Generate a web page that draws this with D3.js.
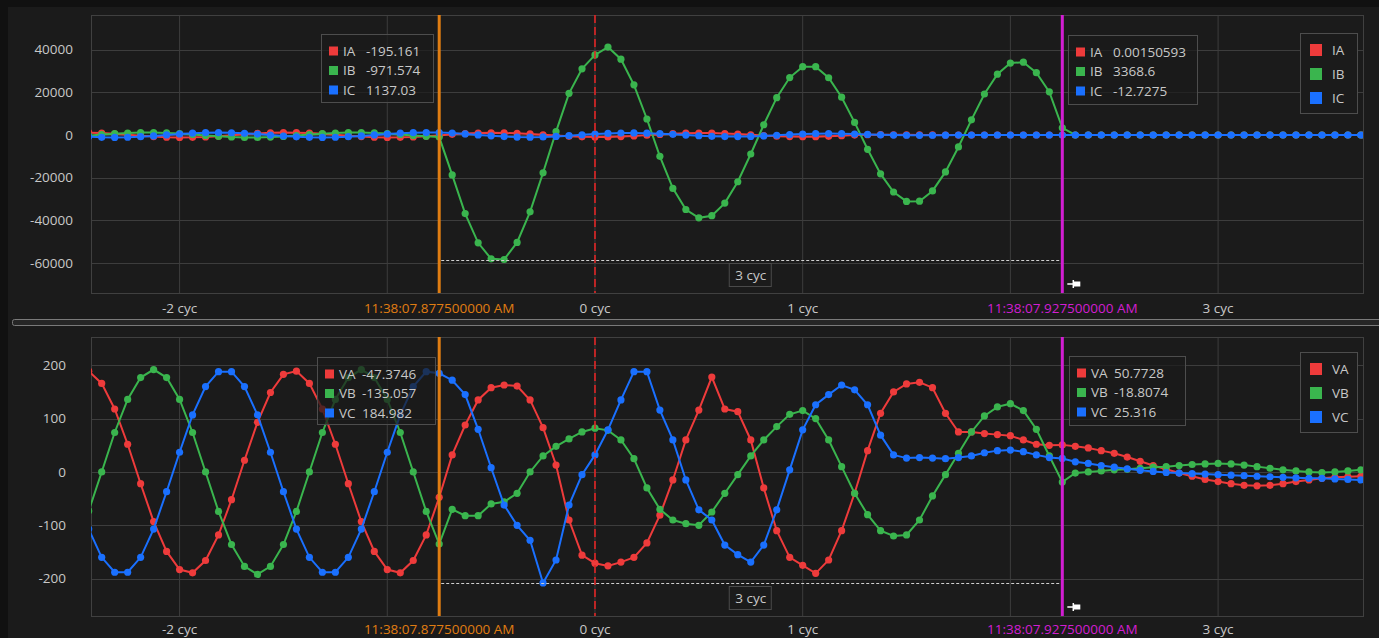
<!DOCTYPE html>
<html lang="en">
<head>
<meta charset="utf-8" />
<style>
    body {margin:0; background:#1b1b1b;}
    svg {display:block;}
    text {font-family: "Open Sans", "Noto Sans", sans-serif; font-size: 13.5px; fill: #c8c8c8;}
</style>
<script src="https://d3js.org/d3.v7.min.js"></script>
</head>
<body>
<svg></svg>
<script>
var width = 1379,
    height = 638;

// sample numbering: first sample index, 16 samples per cycle
var firstSample = -39,
    samplesPerCycle = 16;

var ia = [1103, 894, 549, 120, -327, -724, -1011, -1144, -1103, -894, -549, -120, 327, 724, 1011, 1144,
    1103, 894, 549, 120, -327, -724, -1011, -1144, -1103, -894, -549, -195.161,
    300, 650, 900, 1000, 950, 780, 480, 100, -280, -620, -860, -950, -900, -720, -420, -60,
    290, 610, 840, 930, 880, 700, 420, 80, -260, -560, -760, -830, -780, -600, -330, -40,
    120, 150, 120, 80, 40, 20, 10, 5, 3, 2, 1, 0, 0, 0, 0, 0.00150593,
    0, 0, 0, 0, 0, 0, 0, 0, 0, 0, 0, 0, 0, 0, 0, 0, 0, 0, 0, 0, 0, 0, 0];
var ib = [-268, 180, 601, 930, 1118, 1136, 981, 676, 268, -180, -601, -930, -1118, -1136, -981, -676,
    -268, 180, 601, 930, 1118, 1136, 981, 676, 268, -180, -601, -971.574,
    -18700, -36800, -50500, -58000, -58300, -50300, -36000, -17700, 1600, 19500, 31000, 37500,
    41200, 35500, 23500, 7500, -10000, -25000, -34900, -38800, -37800, -31900, -21900, -8900,
    4800, 17500, 26900, 32000, 32000, 26800, 17700, 5900, -6700, -18200, -26700, -31100,
    -31000, -26200, -17300, -5600, 7100, 19200, 28500, 33700, 34100, 29200, 20200, 3368.6,
    0, 0, 0, 0, 0, 0, 0, 0, 0, 0, 0, 0, 0, 0, 0, 0, 0, 0, 0, 0, 0, 0, 0];
var ic = [-834, -1074, -1150, -1051, -792, -412, 30, 468, 834, 1074, 1150, 1051, 792, 412, -30, -468,
    -834, -1074, -1150, -1051, -792, -412, 30, 468, 834, 1074, 1150, 1137.03,
    900, 500, 50, -400, -750, -950, -1000, -900, -650, -300, 100, 450, 750, 900, 950, 850,
    600, 300, -50, -350, -600, -750, -760, -650, -420, -120, 200, 450, 620, 680, 620, 450,
    250, 80, -50, -120, -140, -120, -80, -40, -20, -10, -10, -10, -10, -10, -10, -12.7275,
    0, 0, 0, 0, 0, 0, 0, 0, 0, 0, 0, 0, 0, 0, 0, 0, 0, 0, 0, 0, 0, 0, 0];

var va = [189, 166, 118, 52, -22, -93, -149, -183, -189, -166, -118, -52, 22, 93, 149, 183,
    189, 166, 118, 52, -22, -93, -149, -183, -189, -166, -118, -47.3746,
    32, 88, 135, 158, 163, 161, 135, 83, 13, -90, -156, -171, -176, -169, -160, -133,
    -81, -15, 60, 116, 178, 118, 113, 60, -30, -110, -160, -175, -190, -165, -110, -40,
    40, 110, 150, 165, 168, 158, 110, 75, 75, 72, 70, 68, 60, 52, 50, 50.7728,
    48, 45, 40, 35, 28, 20, 12, 5, -2, -8, -14, -18, -22, -25, -26, -25, -22, -18, -15, -12, -10, -9, -8];
var vb = [-73, 0, 74, 136, 177, 192, 177, 136, 74, 0, -74, -136, -177, -192, -177, -136,
    -74, 0, 74, 136, 177, 192, 177, 136, 74, 0, -74, -135.057,
    -70, -82, -82, -60, -56, -40, 0, 30, 48, 62, 75, 82, 78, 60, 25, -30,
    -70, -90, -97, -100, -75, -40, -5, 30, 60, 85, 108, 115, 100, 60, 10, -40,
    -80, -110, -120, -118, -90, -45, -5, 35, 75, 105, 122, 128, 115, 80, 30, -18.8074,
    -2, 0, 2, 4, 5, 7, 9, 10, 12, 14, 15, 16, 15, 13, 10, 7, 4, 2, 0, -1, 0, 2, 4];
var vc = [-107, -160, -188, -188, -160, -107, -37, 37, 107, 160, 188, 188, 160, 107, 37, -37,
    -107, -160, -188, -188, -160, -107, -37, 37, 107, 160, 188, 184.982,
    172, 145, 80, 8, -62, -100, -128, -208, -165, -62, -5, 32, 79, 135, 188, 188,
    116, 60, -15, -71, -90, -137, -155, -169, -137, -71, 4, 79, 126, 145, 163, 154,
    126, 69, 32, 26, 27, 26, 25, 27, 30, 36, 40, 41, 38, 32, 27, 25.316,
    19, 16, 12, 9, 6, 3, 1, -1, -2, -3, -4, -5, -6, -7, -8, -9, -10, -11, -12, -12, -13, -14, -15];

var xTickCycles = [-2, -1, 0, 1, 2, 3];
var xTickLabels = ["-2 cyc", "", "0 cyc", "1 cyc", "", "3 cyc"];
var currentTicks = [-60000, -40000, -20000, 0, 20000, 40000];
var voltageTicks = [-200, -100, 0, 100, 200];

var cursors = [
    {cycle: -0.75, time: "11:38:07.877500000 AM", color: "#e07d12"},
    {cycle: 2.25, time: "11:38:07.927500000 AM", color: "#d21ed2"}
];
var deltaLabel = "3 cyc";

var colors = ["#ee3b3b", "#3ab54e", "#1a70ff"];

var x = d3.scaleLinear().domain([-2.4265, 3.6977]).range([91, 1363]);
var fmt = d3.formatLocale({decimal: ".", thousands: ",", grouping: [3], currency: ["", ""], minus: "-"})
    .format(".6~g");

var svg = d3.select("svg")
    .attr("width", width)
    .attr("height", height);

svg.append("rect")
    .attr("width", width).attr("height", height)
    .attr("fill", "#111");
svg.append("rect")
    .attr("x", 8).attr("y", 7)
    .attr("width", width).attr("height", height)
    .attr("fill", "#1b1b1b");

// splitter between the two panels
svg.append("rect")
    .attr("x", 12.5).attr("y", 319.5)
    .attr("width", 1380).attr("height", 6)
    .attr("rx", 2)
    .attr("fill", "#262626")
    .attr("stroke", "#7a7a7a");

drawPanel({
    top: 15, bottom: 293,
    domain: [-74000, 56200],
    ticks: currentTicks,
    tickRight: 73,
    names: ["IA", "IB", "IC"],
    series: [ia, ib, ic],
    labelY: 313,
    measureY: 260,
    cursorBoxes: [{x: 321, y: 34, w: 112, h: 68}, {x: 1068, y: 35, w: 129, h: 69}],
    legend: {x: 1300, y: 33, w: 57, h: 80}
});

drawPanel({
    top: 337, bottom: 616,
    domain: [-270, 253],
    ticks: voltageTicks,
    tickRight: 66,
    names: ["VA", "VB", "VC"],
    series: [va, vb, vc],
    labelY: 634,
    measureY: 583,
    cursorBoxes: [{x: 317, y: 357, w: 118, h: 67}, {x: 1069, y: 356, w: 116, h: 69}],
    legend: {x: 1300, y: 352, w: 57, h: 80}
});

function drawPanel(p) {
    var y = d3.scaleLinear().domain(p.domain).range([p.bottom, p.top]);
    var g = svg.append("g");
    var clipId = "clip" + p.top;

    g.append("clipPath").attr("id", clipId)
      .append("rect")
        .attr("x", x.range()[0]).attr("y", p.top)
        .attr("width", x.range()[1] - x.range()[0])
        .attr("height", p.bottom - p.top);

    // grid
    g.append("g").selectAll("line")
        .data(xTickCycles)
      .enter().append("line")
        .attr("x1", function(d) {return x(d)}).attr("x2", function(d) {return x(d)})
        .attr("y1", p.top).attr("y2", p.bottom)
        .attr("stroke", "#3d3d3d");

    g.append("g").selectAll("line")
        .data(p.ticks)
      .enter().append("line")
        .attr("x1", x.range()[0]).attr("x2", x.range()[1])
        .attr("y1", function(d) {return Math.round(y(d)) + 0.5})
        .attr("y2", function(d) {return Math.round(y(d)) + 0.5})
        .attr("stroke", "#3d3d3d");

    g.append("rect")
        .attr("x", x.range()[0] + 0.5).attr("y", p.top + 0.5)
        .attr("width", x.range()[1] - x.range()[0]).attr("height", p.bottom - p.top)
        .attr("fill", "none")
        .attr("stroke", "#404040");

    // y tick labels
    g.append("g").selectAll("text")
        .data(p.ticks)
      .enter().append("text")
        .attr("x", p.tickRight)
        .attr("y", function(d) {return y(d)})
        .attr("dy", "0.35em")
        .attr("text-anchor", "end")
        .text(function(d) {return d});

    // x tick labels
    g.append("g").selectAll("text")
        .data(xTickCycles.filter(function(d, i) {return xTickLabels[i]}))
      .enter().append("text")
        .attr("x", function(d) {return x(d)})
        .attr("y", p.labelY)
        .attr("text-anchor", "middle")
        .text(function(d) {return xTickLabels[xTickCycles.indexOf(d)]});

    // waveforms
    var line = d3.line()
        .x(function(d, i) {return x((firstSample + i) / samplesPerCycle)})
        .y(function(d) {return y(d)});

    var plot = g.append("g").attr("clip-path", "url(#" + clipId + ")");

    p.series.forEach(function(s, si) {
        plot.append("path")
            .datum(s)
            .attr("d", line)
            .attr("fill", "none")
            .attr("stroke", colors[si])
            .attr("stroke-width", 2);

        plot.append("g").selectAll("circle")
            .data(s)
          .enter().append("circle")
            .attr("cx", function(d, i) {return x((firstSample + i) / samplesPerCycle)})
            .attr("cy", function(d) {return y(d)})
            .attr("r", 3.6)
            .attr("fill", colors[si]);
    });

    // zero-cycle trigger marker
    g.append("line")
        .attr("x1", x(0)).attr("x2", x(0))
        .attr("y1", p.top).attr("y2", p.bottom)
        .attr("stroke", "#e02424")
        .attr("stroke-width", 1.6)
        .attr("stroke-dasharray", "8,4");

    // cursors
    cursors.forEach(function(c) {
        g.append("line")
            .attr("x1", x(c.cycle)).attr("x2", x(c.cycle))
            .attr("y1", p.top).attr("y2", p.bottom)
            .attr("stroke", c.color)
            .attr("stroke-width", 3);

        g.append("text")
            .attr("x", x(c.cycle))
            .attr("y", p.labelY)
            .attr("text-anchor", "middle")
            .style("fill", c.color)
            .text(c.time);
    });

    // delta measurement between cursors
    var xa = x(cursors[0].cycle), xb = x(cursors[1].cycle);
    g.append("line")
        .attr("x1", xa + 2).attr("x2", xb - 2)
        .attr("y1", p.measureY + 0.5).attr("y2", p.measureY + 0.5)
        .attr("stroke", "#d0d0d0")
        .attr("stroke-dasharray", "3,2");

    var mid = (xa + xb) / 2;
    g.append("rect")
        .attr("x", mid - 21.5).attr("y", p.measureY + 3.5)
        .attr("width", 42).attr("height", 23)
        .attr("fill", "#1b1b1b")
        .attr("stroke", "#4a4a4a");
    g.append("text")
        .attr("x", mid).attr("y", p.measureY + 19.5)
        .attr("text-anchor", "middle")
        .text(deltaLabel);

    // pin icon next to second cursor
    var px = xb + 5, py = p.bottom - 9;
    g.append("path")
        .attr("d", "M" + px + "," + py + "h6 M" + (px + 6) + "," + (py - 4) + "v8")
        .attr("stroke", "#fff")
        .attr("stroke-width", 1.5);
    g.append("rect")
        .attr("x", px + 6).attr("y", py - 2.5)
        .attr("width", 7).attr("height", 5)
        .attr("fill", "#fff");

    // cursor readouts
    cursors.forEach(function(c, ci) {
        var b = p.cursorBoxes[ci];
        var idx = Math.round(c.cycle * samplesPerCycle) - firstSample;
        var box = g.append("g");
        box.append("rect")
            .attr("x", b.x + 0.5).attr("y", b.y + 0.5)
            .attr("width", b.w).attr("height", b.h)
            .attr("fill", "rgba(27,27,27,0.72)")
            .attr("stroke", "#4d4d4d");
        p.names.forEach(function(n, si) {
            var ry = b.y + 17 + si * 19.5;
            box.append("rect")
                .attr("x", b.x + 8).attr("y", ry - 4.5)
                .attr("width", 9).attr("height", 9)
                .attr("fill", colors[si]);
            box.append("text")
                .attr("x", b.x + 22).attr("y", ry)
                .attr("dy", "0.35em")
                .text(n);
            box.append("text")
                .attr("x", b.x + 45).attr("y", ry)
                .attr("dy", "0.35em")
                .text(fmt(p.series[si][idx]));
        });
    });

    // series legend
    var l = g.append("g");
    l.append("rect")
        .attr("x", p.legend.x + 0.5).attr("y", p.legend.y + 0.5)
        .attr("width", p.legend.w).attr("height", p.legend.h)
        .attr("fill", "#1b1b1b")
        .attr("stroke", "#4d4d4d");
    p.names.forEach(function(n, si) {
        var ry = p.legend.y + 17 + si * 24;
        l.append("rect")
            .attr("x", p.legend.x + 10).attr("y", ry - 6)
            .attr("width", 12).attr("height", 12)
            .attr("fill", colors[si]);
        l.append("text")
            .attr("x", p.legend.x + 32).attr("y", ry)
            .attr("dy", "0.35em")
            .text(n);
    });
}
</script>
</body>
</html>
